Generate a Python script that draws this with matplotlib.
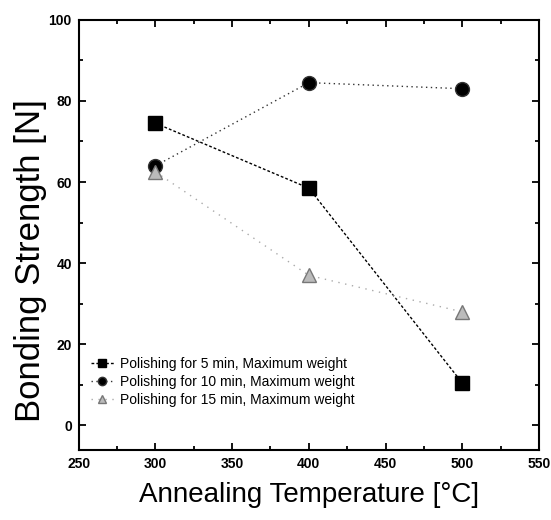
import matplotlib
matplotlib.use("Agg")
import matplotlib.pyplot as plt
from matplotlib.ticker import MultipleLocator

temps = [300, 400, 500]
pol5 = [74.5, 58.5, 10.5]
pol10 = [64.0, 84.5, 83.0]
pol15 = [62.5, 37.0, 28.0]
labels = ["Polishing for 5 min, Maximum weight",
          "Polishing for 10 min, Maximum weight",
          "Polishing for 15 min, Maximum weight"]

plt.rcParams['font.family'] = ['Liberation Sans', 'DejaVu Sans']

fig = plt.figure(figsize=(5.51, 5.2), dpi=100)
ax = fig.add_axes([0.143, 0.135, 0.835, 0.827])

ax.plot(temps, pol5, color='black', linestyle=(0, (2, 1.5)), linewidth=1,
        marker='s', markersize=10, markerfacecolor='black', label=labels[0])
ax.plot(temps, pol10, color='#333333', linestyle=(0, (1, 2.5)), linewidth=1,
        marker='o', markersize=10, markerfacecolor='black', label=labels[1])
ax.plot(temps, pol15, color='#aaaaaa', linestyle=(0, (1, 4)), linewidth=1,
        marker='^', markersize=10, markerfacecolor='#bbbbbb',
        markeredgecolor='#777777', label=labels[2])

ax.set_xlim(250, 550)
ax.set_ylim(-6, 100)
ax.xaxis.set_major_locator(MultipleLocator(50))
ax.xaxis.set_minor_locator(MultipleLocator(25))
ax.yaxis.set_major_locator(MultipleLocator(20))
ax.yaxis.set_minor_locator(MultipleLocator(10))
ax.tick_params(which='both', direction='in', top=True, right=True, width=1.3)
ax.tick_params(which='major', length=5, labelsize=10, pad=5)
ax.tick_params(which='minor', length=3)
for lbl in ax.get_xticklabels() + ax.get_yticklabels():
    lbl.set_fontweight('bold')
for s in ax.spines.values():
    s.set_linewidth(1.5)

ax.set_xlabel("Annealing Temperature [°C]", fontsize=20, labelpad=8)
ax.set_ylabel("Bonding Strength [N]", fontsize=25)
ax.yaxis.set_label_coords(-0.07, 0.44)

ax.legend(loc='lower left', bbox_to_anchor=(0.0, 0.07), frameon=False,
          fontsize=10, handlelength=1.6, markerscale=0.6, labelspacing=0.3,
          handletextpad=0.5)

fig.savefig("out.png", dpi=100)
